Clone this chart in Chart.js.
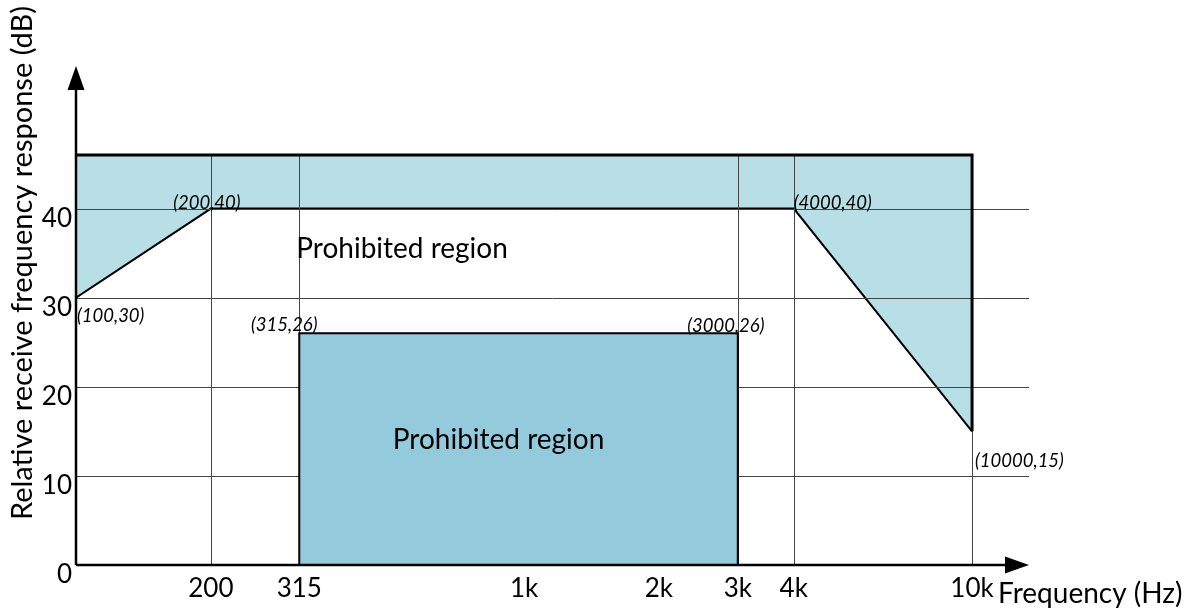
<!DOCTYPE html>
<html>
<head>
<meta charset="utf-8">
<script src="https://cdn.jsdelivr.net/npm/chart.js@4"></script>
<style>
  html, body { margin: 0; padding: 0; background: #fff; }
  canvas { display: block; }
</style>
</head>
<body>
<canvas id="chart" width="1188" height="611"></canvas>
<script>
const freqMin = 100;
const freqMax = 13400;
const levelMax = 56;

const xTickValues = [200, 315, 1000, 2000, 3000, 4000, 10000];
const xTickLabels = ["200", "315", "1k", "2k", "3k", "4k", "10k"];
const yTickValues = [0, 10, 20, 30, 40];

// upper limit line of the mask (shaded up to the ceiling)
const maskFreq = [100, 200, 4000, 10000];
const maskLevel = [30, 40, 40, 15];
const maskCeiling = 46;

// lower prohibited block
const floorFreq = [315, 315, 3000, 3000];
const floorLevel = [0, 26, 26, 0];

// reference lines
const gridFreq = [200, 315, 3000, 4000, 10000];
const gridLevel = [10, 20, 30, 40];

const pointNotes = [
  { f: 100, v: 30, text: "(100,30)", align: "left", dx: 1, dy: 18 },
  { f: 200, v: 40, text: "(200,40)", align: "center", dx: -4, dy: -6 },
  { f: 315, v: 26, text: "(315,26)", align: "center", dx: -15, dy: -8 },
  { f: 3000, v: 26, text: "(3000,26)", align: "center", dx: -12, dy: -7 },
  { f: 4000, v: 40, text: "(4000,40)", align: "left", dx: 0, dy: -6 },
  { f: 10000, v: 15, text: "(10000,15)", align: "left", dx: 3, dy: 30 },
];

const FONT = "Lato, 'Open Sans', sans-serif";
Chart.defaults.font.family = FONT;
Chart.defaults.color = "#000";

const toPoints = (xs, ys) => xs.map((x, i) => ({ x, y: ys[i] }));

function crisp(v) {
  return Math.round(v) + 0.5;
}

function drawGrid(chart) {
  const { ctx, chartArea, scales } = chart;
  const x = scales.x, y = scales.y;
  ctx.save();
  ctx.strokeStyle = "#444";
  ctx.lineWidth = 1;
  ctx.beginPath();
  for (const lv of gridLevel) {
    const py = crisp(y.getPixelForValue(lv));
    ctx.moveTo(chartArea.left, py);
    ctx.lineTo(chartArea.right, py);
  }
  const yTop = y.getPixelForValue(maskCeiling);
  const yBot = y.getPixelForValue(0);
  for (const f of gridFreq) {
    const px = crisp(x.getPixelForValue(f));
    ctx.moveTo(px, yTop);
    ctx.lineTo(px, yBot);
  }
  ctx.stroke();
  ctx.restore();
}

function drawAxes(chart) {
  const { ctx, chartArea } = chart;
  const { left, right, top, bottom } = chartArea;
  const head = 24, half = 8.5;
  ctx.save();
  ctx.strokeStyle = "#000";
  ctx.fillStyle = "#000";
  ctx.lineWidth = 2.5;
  ctx.beginPath();
  ctx.moveTo(left, bottom);
  ctx.lineTo(left, top + head);
  ctx.moveTo(left, bottom);
  ctx.lineTo(right - head, bottom);
  ctx.stroke();

  ctx.beginPath();
  ctx.moveTo(left, top);
  ctx.lineTo(left - half, top + head);
  ctx.lineTo(left + half, top + head);
  ctx.closePath();
  ctx.fill();

  ctx.beginPath();
  ctx.moveTo(right, bottom);
  ctx.lineTo(right - head, bottom - half);
  ctx.lineTo(right - head, bottom + half);
  ctx.closePath();
  ctx.fill();
  ctx.restore();
}

function drawTexts(chart) {
  const { ctx, scales } = chart;
  const x = scales.x, y = scales.y;
  ctx.save();
  ctx.fillStyle = "#000";

  ctx.font = "italic 18.5px " + FONT;
  ctx.textBaseline = "middle";
  for (const n of pointNotes) {
    ctx.textAlign = n.align;
    ctx.fillText(n.text, x.getPixelForValue(n.f) + n.dx, y.getPixelForValue(n.v) + n.dy);
  }

  ctx.font = "28px " + FONT;
  ctx.textAlign = "left";
  ctx.fillText("Prohibited region", x.getPixelForValue(315) - 3, y.getPixelForValue(35) - 4);

  ctx.textAlign = "center";
  const midX = (x.getPixelForValue(floorFreq[0]) + x.getPixelForValue(floorFreq[3])) / 2;
  ctx.fillText("Prohibited region", midX - 20, y.getPixelForValue(14));

  // axis titles
  ctx.font = "28px " + FONT;
  ctx.textAlign = "left";
  ctx.textBaseline = "alphabetic";
  ctx.fillText("Frequency (Hz)", x.getPixelForValue(10000) + 26, 603);

  ctx.translate(23, 263);
  ctx.rotate(-Math.PI / 2);
  ctx.textAlign = "center";
  ctx.textBaseline = "middle";
  ctx.font = "29px " + FONT;
  ctx.fillText("Relative receive frequency response (dB)", 0, 0);
  ctx.restore();
}

const decor = {
  id: "maskDecor",
  afterDatasetDraw(chart, args) {
    if (args.index === 1) drawGrid(chart);
  },
  afterDatasetsDraw(chart) {
    drawAxes(chart);
    drawTexts(chart);
  },
};

new Chart(document.getElementById("chart"), {
  type: "line",
  data: {
    datasets: [
      {
        label: "floor",
        data: toPoints(floorFreq, floorLevel),
        borderColor: "#000",
        borderWidth: 2,
        backgroundColor: "#93cadc",
        fill: "origin",
        order: 1,
      },
      {
        label: "mask",
        data: toPoints(maskFreq, maskLevel),
        borderColor: "#000",
        borderWidth: 2,
        backgroundColor: "#b8dee6",
        fill: { value: maskCeiling },
        order: 2,
      },
      {
        label: "ceiling",
        data: [
          { x: maskFreq[0], y: maskCeiling },
          { x: maskFreq[maskFreq.length - 1], y: maskCeiling },
          { x: maskFreq[maskFreq.length - 1], y: maskLevel[maskLevel.length - 1] },
        ],
        borderColor: "#000",
        borderWidth: 3,
        fill: false,
        order: 0,
      },
    ],
  },
  options: {
    responsive: false,
    animation: false,
    layout: { padding: { top: 66, right: 159, left: 0, bottom: 0 } },
    elements: {
      point: { radius: 0 },
      line: { tension: 0 },
    },
    plugins: {
      legend: { display: false },
      tooltip: { enabled: false },
    },
    scales: {
      x: {
        type: "logarithmic",
        min: freqMin,
        max: freqMax,
        afterFit: (s) => { s.height = 46; },
        afterBuildTicks: (s) => { s.ticks = xTickValues.map((v) => ({ value: v })); },
        grid: { display: false, drawTicks: false },
        border: { display: false },
        ticks: {
          autoSkip: false,
          maxRotation: 0,
          padding: 8,
          font: { size: 26 },
          callback: (v) => {
            const i = xTickValues.indexOf(v);
            return i >= 0 ? xTickLabels[i] : "";
          },
        },
      },
      y: {
        min: 0,
        max: levelMax,
        afterFit: (s) => { s.width = 76; },
        afterBuildTicks: (s) => { s.ticks = yTickValues.map((v) => ({ value: v })); },
        grid: { display: false, drawTicks: false },
        border: { display: false },
        ticks: {
          padding: 4,
          labelOffset: 10,
          font: { size: 26 },
        },
      },
    },
  },
  plugins: [decor],
});
</script>
</body>
</html>
